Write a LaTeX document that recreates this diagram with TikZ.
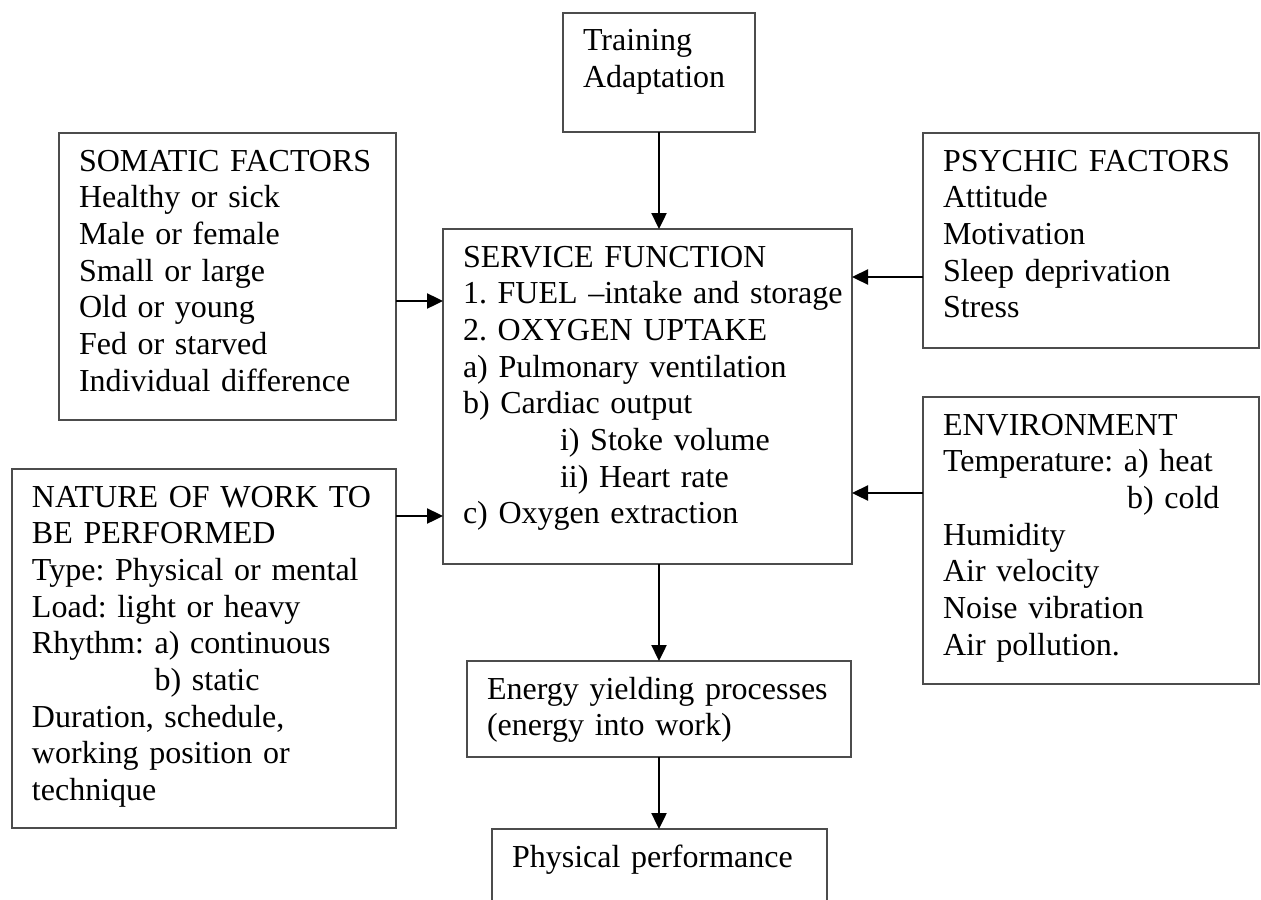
\documentclass[tikz,border=0pt]{standalone}
\usepackage{fontspec}
\setmainfont{Liberation Serif}
\usetikzlibrary{arrows.meta,positioning}
\tikzset{
    factor/.style={draw=black!70, line width=0.7pt, anchor=north west, align=left,
        outer sep=0pt, inner xsep=10pt, inner ysep=0pt, text height=19pt,
        font=\fontsize{16pt}{18.35pt}\selectfont},
    feed/.style={-{Triangle[length=8pt,width=7.5pt]}, line width=1.2pt},
}

\begin{document}
\frenchspacing
\hyphenpenalty=10000
\begin{tikzpicture}[x=0.5pt, y=-0.5pt]
    \useasboundingbox (0,0) rectangle (1261,899);

    \node[factor, text width=76pt, text depth=40.5pt] (train) at (563, 13) {%
    Training\\
    Adaptation};

    \node[factor, text width=148.5pt, text depth=124.5pt] (soma) at (59, 133) {%
    SOMATIC FACTORS\\
    Healthy or sick\\
    Male or female\\
    Small or large\\
    Old or young\\
    Fed or starved\\
    Individual difference};

    \node[factor, text width=148pt, text depth=88.5pt] (psy) at (923, 133) {%
    PSYCHIC FACTORS\\
    Attitude\\
    Motivation\\
    Sleep deprivation\\
    Stress};

    \node[factor, text width=184.5pt, text depth=148.5pt] (serv) at (443, 229) {%
    SERVICE FUNCTION\\
    \mbox{1. FUEL –intake and storage}\\
    2. OXYGEN UPTAKE\\
    a) Pulmonary ventilation\\
    b) Cardiac output\\
    \hspace*{48.5pt}i) Stoke volume\\
    \hspace*{48.5pt}ii) Heart rate\\
    c) Oxygen extraction};

    \node[factor, text width=172pt, text depth=160.5pt] (work) at (12, 469) {%
    NATURE OF WORK TO\\
    BE PERFORMED\\
    Type: Physical or mental\\
    Load: light or heavy\\
    Rhythm: a) continuous\\
    \phantom{Rhythm: }b) static\\
    Duration, schedule,\\
    working position or\\
    technique};

    \node[factor, text width=148pt, text depth=124.5pt] (env) at (923, 397) {%
    ENVIRONMENT\\
    Temperature: a) heat\\
    \hspace*{92pt}b) cold\\
    Humidity\\
    Air velocity\\
    Noise vibration\\
    Air pollution.};

    \node[factor, text width=172pt, text depth=29pt] (energy) at (467, 661) {%
    Energy yielding processes\\
    (energy into work)};

    \node[factor, text width=147.5pt, text depth=31pt] (phys) at (492, 829) {%
    Physical performance};

    \draw[feed] (train.south) -- (train.south |- serv.north);
    \draw[feed] (soma.east |- 0,301) -- (serv.west |- 0,301);
    \draw[feed] (work.east |- 0,516) -- (serv.west |- 0,516);
    \draw[feed] (psy.west |- 0,277) -- (serv.east |- 0,277);
    \draw[feed] (env.west |- 0,493) -- (serv.east |- 0,493);
    \draw[feed] (serv.south -| energy.north) -- (energy.north);
    \draw[feed] (energy.south) -- (energy.south |- phys.north);
\end{tikzpicture}
\end{document}
